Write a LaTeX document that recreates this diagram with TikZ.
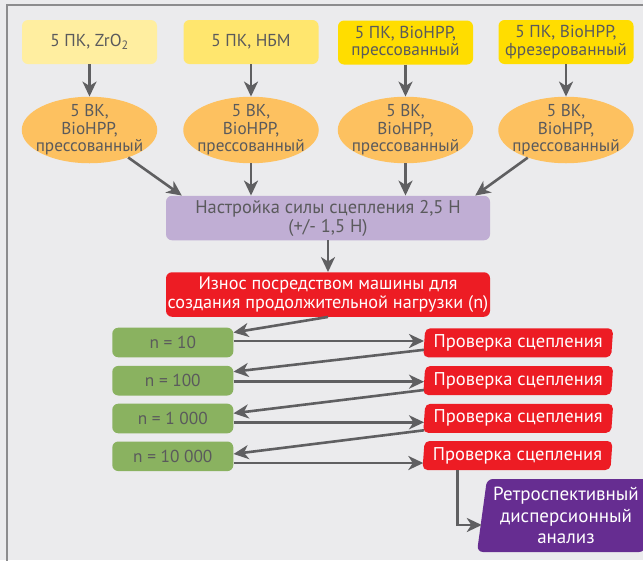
\documentclass[tikz,border=0pt]{standalone}
\usepackage{fontspec}
\setmainfont{PT Sans}
\usetikzlibrary{shapes.geometric,arrows.meta}
\definecolor{bgc}{RGB}{235,235,237}
\definecolor{framec}{RGB}{140,140,142}
\definecolor{ypale}{RGB}{255,238,160}
\definecolor{ymid}{RGB}{255,230,110}
\definecolor{ybright}{RGB}{255,221,0}
\definecolor{orc}{RGB}{253,193,96}
\definecolor{lilac}{RGB}{192,174,212}
\definecolor{redc}{RGB}{237,28,36}
\definecolor{greenc}{RGB}{138,178,96}
\definecolor{purplec}{RGB}{102,45,145}
\definecolor{arrc}{RGB}{95,95,97}
\definecolor{txtc}{RGB}{90,90,92}
\begin{document}
\begin{tikzpicture}[x=1pt,y=-1pt,
  arr/.style={draw=arrc, line width=2.6pt, -{Stealth[length=15pt,width=14pt,inset=4.5pt]}},
  topbox/.style={rounded corners=6pt, minimum width=135pt, minimum height=44pt, inner sep=0pt,
    align=center, text=txtc, font=\fontsize{17.3}{17.5}\selectfont},
  ell/.style={ellipse, fill=orc, minimum width=135.5pt, minimum height=66.5pt,
    inner xsep=-15pt, inner ysep=-10pt,
    align=center, text=txtc, font=\fontsize{17.2}{17.5}\selectfont},
  widebox/.style={rounded corners=6pt, minimum width=324pt, minimum height=44.5pt, inner sep=0pt,
    align=center},
  nbox/.style={rounded corners=6pt, fill=greenc, minimum width=121pt, minimum height=29.6pt,
    inner sep=0pt, text=txtc, font=\fontsize{17.3}{17.5}\selectfont},
  chk/.style={trapezium, trapezium left angle=83, trapezium right angle=97,
    trapezium stretches body=true, rounded corners=5pt, fill=redc, minimum width=190pt,
    minimum height=29pt, inner sep=0pt, text=white, font=\fontsize{18.5}{19}\selectfont},
  finbox/.style={trapezium, trapezium left angle=80, trapezium right angle=100,
    trapezium stretches body=true, rounded corners=6pt, fill=purplec, minimum width=178pt,
    minimum height=73pt, inner sep=0pt, align=center, text=white,
    font=\fontsize{19}{21.5}\selectfont}
]
\clip (0,0) rectangle (643,560);
\useasboundingbox (0,0) rectangle (643,560);
\fill[bgc] (0,0) rectangle (643,560);
\draw[framec, line width=1.8pt] (6.7,5) rectangle (700,620);

% top boxes
\node[topbox, fill=ypale] (t1) at (89.5,42) {5 ПК, ZrO\textsubscript{2}};
\node[topbox, fill=ymid] (t2) at (251,42) {5 ПК, НБМ};
\node[topbox, fill=ybright] (t3) at (405.5,42.5) {5 ПК, BioHPP,\\прессованный};
\node[topbox, fill=ybright] (t4) at (566,42) {5 ПК, BioHPP,\\фрезерованный};

% ellipses
\node[ell] (e1) at (89.5,130) {5 ВК,\\BioHPP,\\прессованный};
\node[ell] (e2) at (251,130) {5 ВК,\\BioHPP,\\прессованный};
\node[ell] (e3) at (405.5,130) {5 ВК,\\BioHPP,\\прессованный};
\node[ell] (e4) at (566,130) {5 ВК,\\BioHPP,\\прессованный};

\foreach \i in {1,2,3,4} \draw[arr] (t\i.south) -- (e\i.north);

% middle boxes
\node[widebox, fill=lilac, text=txtc, font=\fontsize{18.4}{19}\selectfont] (m) at (328,218)
  {Настройка силы сцепления 2,5 Н\\(+/- 1,5 Н)};
\node[widebox, fill=redc, text=white, font=\fontsize{18.2}{18.5}\selectfont] (rm) at (328,294.5)
  {Износ посредством машины для\\создания продолжительной нагрузки (n)};

\draw[arr] (e1) -- ([xshift=16pt]m.north west);
\draw[arr] (e2.south) -- (e2.south |- m.north);
\draw[arr] (e3.south) -- (e3.south |- m.north);
\draw[arr] (e4) -- ([xshift=-15pt]m.north east);
\draw[arr] (m.south) -- (rm.north);

% cycles
\node[nbox] (g1) at (172.8,342.5) {n = 10};
\node[nbox] (g2) at (172.8,380.7) {n = 100};
\node[nbox] (g3) at (172.8,418.5) {n = 1 000};
\node[nbox] (g4) at (172.8,456.3) {n = 10 000};

\node[chk] (c1) at (518.2,342.8) {Проверка сцепления};
\node[chk] (c2) at (518.2,380.5) {Проверка сцепления};
\node[chk] (c3) at (518.2,418.3) {Проверка сцепления};
\node[chk] (c4) at (517.5,455.5) {Проверка сцепления};

\node[finbox] (fin) at (566,515.5) {Ретроспективный\\дисперсионный\\анализ};

\draw[arr] (rm.south) -- ([yshift=10pt]g1.east);
\draw[arr] ([yshift=1.5pt]g1.east) -- ([yshift=1.5pt]g1.east -| c1.west);
\draw[arr] ([yshift=-7pt]c1.west) -- ([yshift=9pt]g2.east);
\draw[arr] ([yshift=-1pt]g2.east) -- ([yshift=-1pt]g2.east -| c2.west);
\draw[arr] ([yshift=-9.5pt]c2.west) -- ([yshift=5.2pt]g3.east);
\draw[arr] ([yshift=-3.8pt]g3.east) -- ([yshift=-3.8pt]g3.east -| c3.west);
\draw[arr] ([yshift=-12pt]c3.west) -- ([yshift=2.3pt]g4.east);
\draw[arr] ([yshift=-6.7pt]g4.east) -- ([yshift=-6.7pt]g4.east -| c4.west);
\draw[arr] ([xshift=-60pt]c4.south) |- ([yshift=-9.5pt]fin.west);
\end{tikzpicture}
\end{document}
